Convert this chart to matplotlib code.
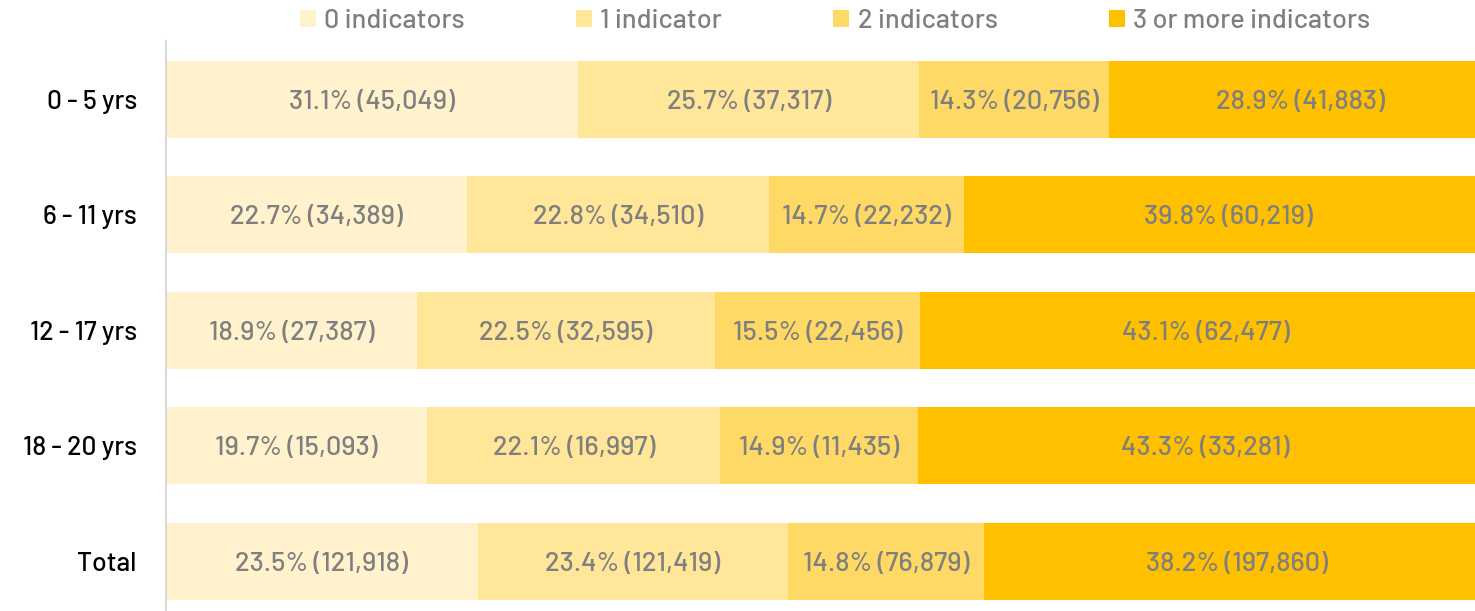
import matplotlib
matplotlib.use("Agg")
import matplotlib.pyplot as plt
from matplotlib import font_manager
from matplotlib.patches import Patch

# data
groups = ['0 - 5 yrs', '6 - 11 yrs', '12 - 17 yrs', '18 - 20 yrs', 'Total']
series = ['0 indicators', '1 indicator', '2 indicators', '3 or more indicators']
pct = [
    [31.1, 22.7, 18.9, 19.7, 23.5],
    [25.7, 22.8, 22.5, 22.1, 23.4],
    [14.3, 14.7, 15.5, 14.9, 14.8],
    [28.9, 39.8, 43.1, 43.3, 38.2],
]
counts = [
    [45049, 34389, 27387, 15093, 121918],
    [37317, 34510, 32595, 16997, 121419],
    [20756, 22232, 22456, 11435, 76879],
    [41883, 60219, 62477, 33281, 197860],
]
colors = ['#FFF2CC', '#FFE699', '#FFD966', '#FFC000']

# pick a DIN-like font close to the original, fall back to DejaVu
names = {f.name for f in font_manager.fontManager.ttflist}
fam = 'DejaVu Sans'
for cand in ['Barlow', 'Barlow Semi Condensed', 'Roboto Condensed',
             'Archivo Narrow', 'PT Sans Narrow', 'Liberation Sans Narrow']:
    if cand in names:
        fam = cand
        break
plt.rcParams['font.family'] = [fam, 'DejaVu Sans']

fig = plt.figure(figsize=(14.75, 6.11), dpi=100)
ax = fig.add_axes([166 / 1475, -8.3 / 611, 1326 / 1475, 578 / 611])

ypos = list(range(len(groups)))
left = [0.0] * len(groups)
for s in range(len(series)):
    ax.barh(ypos, pct[s], left=left, height=0.665, color=colors[s],
            label=series[s])
    for i in ypos:
        ax.text(left[i] + pct[s][i] / 2, i, f"{pct[s][i]:.1f}% ({counts[s][i]:,})",
                ha='center', va='center_baseline', color='#7F7F7F', fontsize=19.5,
                fontweight='medium')
        left[i] += pct[s][i]

ax.set_xlim(0, 100)
ax.set_ylim(len(groups) - 0.5, -0.5)
ax.set_yticks(ypos)
ax.set_yticklabels(groups, fontsize=19, color='black', fontweight='medium',
                   va='center_baseline')
ax.tick_params(axis='y', length=0, pad=21)
ax.set_xticks([])
for side in ['top', 'right', 'bottom']:
    ax.spines[side].set_visible(False)
ax.spines['left'].set_color('#D9D9D9')
ax.spines['left'].set_linewidth(1.5)

handles = [Patch(facecolor=c, edgecolor='none') for c in colors]
fig.legend(handles, series, loc='center', bbox_to_anchor=(835 / 1475, 1 - 21 / 611),
           ncol=4, frameon=False, labelcolor='#7F7F7F',
           prop={'size': 19.5, 'weight': 'medium'},
           handlelength=0.6, handleheight=0.6, handletextpad=0.3,
           columnspacing=4.1, borderaxespad=0)

fig.savefig('out.png', dpi=100)
